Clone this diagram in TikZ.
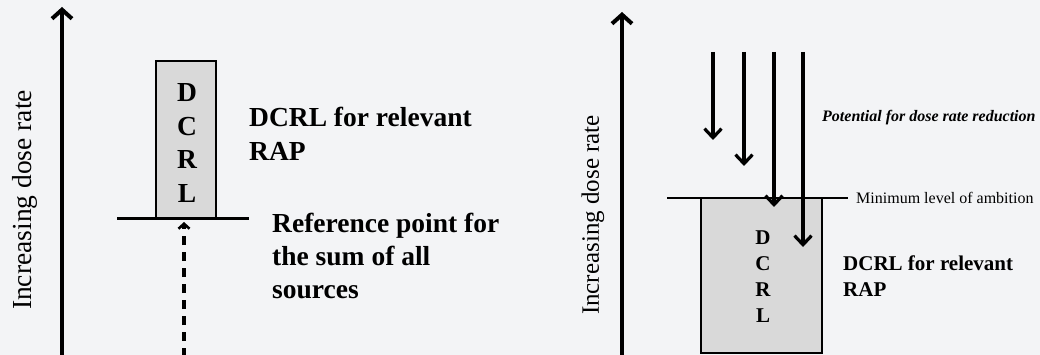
\documentclass[tikz,border=0pt]{standalone}
\usepackage{fontspec}
\setmainfont{Liberation Serif}
\usetikzlibrary{arrows.meta}
\definecolor{bg}{HTML}{F3F4F6}
\definecolor{boxfill}{HTML}{D9D9D9}
\begin{document}
\begin{tikzpicture}[x=1pt,y=-1pt,
  axis/.style={line width=4.2pt,-{Straight Barb[length=9pt,width=20pt,line width=4pt]}},
  down/.style={line width=3.2pt,-{Straight Barb[length=9pt,width=17pt,line width=3.2pt]}},
  dcrlbox/.style={draw,line width=2.2pt,fill=boxfill,inner sep=0pt},
  lbl/.style={inner sep=0pt,anchor=west,align=left}]
\fill[bg] (0,0) rectangle (1040,355);
\useasboundingbox (0,0) rectangle (1040,355);
% ---------- left panel ----------
\coordinate (a1b) at (62,357);
\coordinate (a1t) at (62,7);
\draw[axis] (a1b) -- (a1t);
\node[rotate=90,inner sep=0pt,font=\fontsize{27.5}{33}\selectfont] (lab1) at (25,200) {Increasing dose rate};
\node[dcrlbox,minimum width=60pt,minimum height=158pt] (box1) at (186,140) {};
\node[inner sep=0pt,align=center,font=\bfseries\fontsize{27.5}{33.6}\selectfont] (let1) at (187,143) {D\\C\\R\\L};
\coordinate (h1l) at (117,219);
\coordinate (h1r) at (249,219);
\draw[line width=3pt] (h1l) -- (h1r);
\coordinate (d1b) at (184,357);
\coordinate (d1t) at (184,222);
\draw[line width=3.4pt,dash pattern=on 9pt off 7pt,-{Straight Barb[length=5pt,width=11pt,line width=2.6pt]}] (d1b) -- (d1t);
\node[lbl,font=\bfseries\fontsize{27.5}{34}\selectfont] (t1) at (249,134) {DCRL for relevant\\RAP};
\node[lbl,font=\bfseries\fontsize{27.5}{33}\selectfont] (t2) at (272,256) {Reference point for\\the sum of all\\sources};
% ---------- right panel ----------
\coordinate (a2b) at (622,357);
\coordinate (a2t) at (622,12);
\draw[axis] (a2b) -- (a2t);
\node[rotate=90,inner sep=0pt,font=\fontsize{25}{30}\selectfont] (lab2) at (593,215) {Increasing dose rate};
\node[dcrlbox,minimum width=121pt,minimum height=155pt] (box2) at (761.5,275.5) {};
\node[inner sep=0pt,align=center,font=\bfseries\fontsize{21}{26}\selectfont] (let2) at (763,277) {D\\C\\R\\L};
\coordinate (h2l) at (667,198);
\coordinate (h2r) at (848,198);
\draw[line width=2pt] (h2l) -- (h2r);
\node[lbl,font=\fontsize{16}{19}\selectfont] (min) at (856,198) {Minimum level of ambition};
\foreach \i/\x/\y in {1/713/140,2/744/166,3/774/207,4/803/247}{
  \coordinate (s\i) at (\x,52);
  \coordinate (e\i) at (\x,\y);
  \draw[down] (s\i) -- (e\i);
}
\node[lbl,font=\bfseries\itshape\fontsize{16}{19}\selectfont] (pot) at (822,118) {Potential for dose rate reduction};
\node[lbl,font=\bfseries\fontsize{21}{26}\selectfont] (t3) at (843,276) {DCRL for relevant\\RAP};
\end{tikzpicture}
\end{document}
